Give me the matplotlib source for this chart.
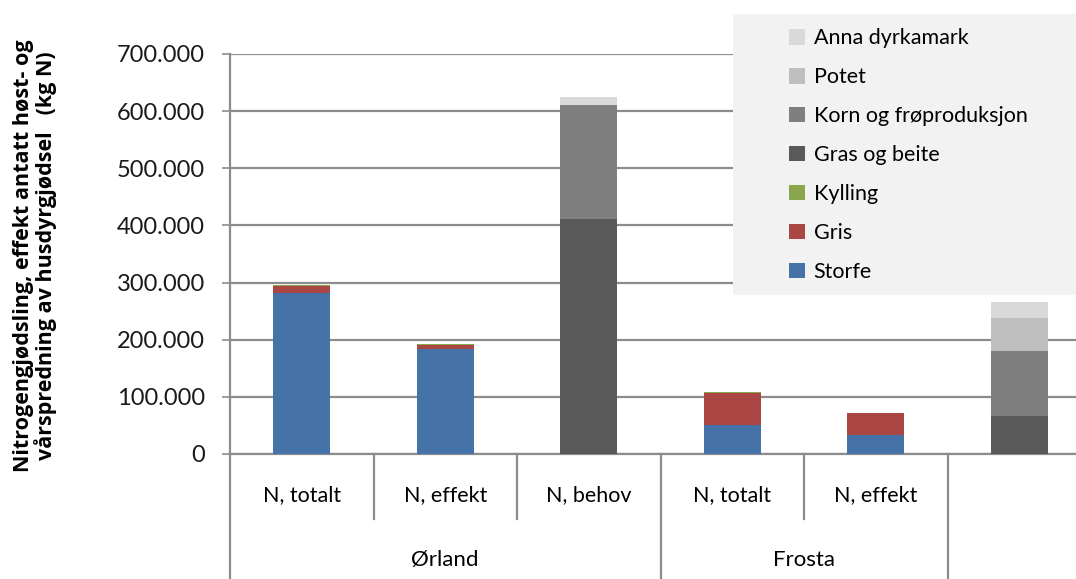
import numpy as np
import matplotlib.pyplot as plt
from matplotlib.patches import Rectangle, Patch

plt.rcParams['font.family'] = ['Lato', 'DejaVu Sans']

# categories (level 1) and groups (level 2)
categories = ['N, totalt', 'N, effekt', 'N, behov', 'N, totalt', 'N, effekt', '']
groups = ['Ørland', 'Frosta']
group_spans = [(0, 2), (3, 4)]

# kg N per series, one value per category
storfe = [281000, 183000, 0, 50000, 33000, 0]
gris = [13000, 8000, 0, 57000, 38000, 0]
kylling = [1000, 1500, 0, 1000, 300, 0]
gras = [0, 0, 412000, 0, 0, 66000]
korn = [0, 0, 198000, 0, 0, 114000]
potet = [0, 0, 0, 0, 0, 58000]
anna = [0, 0, 15000, 0, 0, 28000]

series = [
    ('Storfe', storfe, '#4572a7'),
    ('Gris', gris, '#aa4643'),
    ('Kylling', kylling, '#89a54e'),
    ('Gras og beite', gras, '#595959'),
    ('Korn og frøproduksjon', korn, '#7f7f7f'),
    ('Potet', potet, '#bfbfbf'),
    ('Anna dyrkamark', anna, '#d9d9d9'),
]

W, H = 1076, 579
fig = plt.figure(figsize=(W / 100, H / 100), dpi=100)
ax = fig.add_axes([230 / W, (H - 454) / H, 861 / W, 400 / H])

x = np.arange(len(categories))
bottom = np.zeros(len(categories))
for name, vals, col in series:
    vals = np.array(vals, dtype=float)
    ax.bar(x, vals, 0.4, bottom=bottom, color=col, edgecolor='none', zorder=3)
    bottom += vals

ax.set_xlim(-0.5, len(categories) - 0.5)
ax.set_ylim(0, 700000)
ax.set_yticks(np.arange(0, 700001, 100000))
ax.set_yticklabels(['0'] + [f'{v // 1000}.000' for v in range(100000, 700001, 100000)],
                   fontsize=17, color='#1a1a1a')
ax.yaxis.grid(True, color='#8c8c8c', linewidth=1.6, zorder=0)
ax.tick_params(axis='y', length=6, width=1.2, color='#8c8c8c', pad=12)
ax.set_xticks([])
for s in ['top', 'right']:
    ax.spines[s].set_visible(False)
for s in ['left', 'bottom']:
    ax.spines[s].set_color('#8c8c8c')
    ax.spines[s].set_linewidth(1.6)

# two-level category axis
tr = ax.get_xaxis_transform()
for i, lab in enumerate(categories):
    ax.text(i, -0.1025, lab, transform=tr, ha='center', va='center', fontsize=15.5)
for b in [0.5, 1.5, 3.5]:
    ax.plot([b, b], [0, -0.1625], transform=tr, color='#8c8c8c', lw=1.6, clip_on=False)
for b in [-0.5, 2.5, 4.5]:
    ax.plot([b, b], [0, -0.35], transform=tr, color='#8c8c8c', lw=1.6, clip_on=False)
for g, (a, b) in zip(groups, group_spans):
    ax.text((a + b) / 2, -0.265, g, transform=tr, ha='center', va='center', fontsize=16)

fig.text(35 / W, (H - 256) / H,
         'Nitrogengjødsling, effekt antatt høst- og\nvårspredning av husdyrgjødsel   (kg N)',
         rotation=90, ha='center', va='center', fontsize=15.5, fontweight='bold',
         family=['Open Sans', 'DejaVu Sans'], linespacing=1.0)

# legend box
fig.add_artist(Rectangle((733 / W, (H - 295) / H), (W - 733) / W, 281 / H,
                         transform=fig.transFigure, facecolor='#f2f2f2',
                         edgecolor='none', zorder=4))
handles = [Patch(facecolor=c, edgecolor='none', label=n) for n, _, c in series][::-1]
fig.legend(handles=handles, loc='upper left', bbox_to_anchor=(770 / W, (H - 9) / H),
           frameon=False, fontsize=15.5, handlelength=0.73, handleheight=0.73,
           handletextpad=0.4, labelspacing=0.88)

fig.savefig('out.png', dpi=100)
